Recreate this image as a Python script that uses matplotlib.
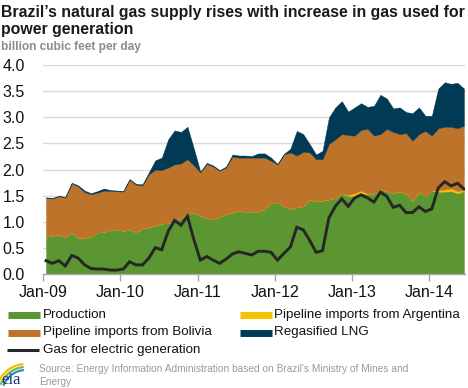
import matplotlib
matplotlib.use("Agg")
import matplotlib.pyplot as plt
from matplotlib.lines import Line2D
from matplotlib.patches import Arc

plt.rcParams['font.family'] = ['Liberation Sans', 'DejaVu Sans']

# monthly data, Jan-2009 .. Jun-2014 (billion cubic feet per day)
production = [0.72, 0.74, 0.76, 0.71, 0.80, 0.70, 0.70, 0.72, 0.80, 0.81, 0.85, 0.86,
              0.83, 0.86, 0.80, 0.88, 0.90, 0.93, 0.97, 0.98, 1.00, 1.08, 1.16, 1.18,
              1.12, 1.08, 1.05, 1.10, 1.15, 1.18, 1.21, 1.20, 1.20, 1.20, 1.24, 1.36,
              1.38, 1.30, 1.25, 1.28, 1.30, 1.43, 1.40, 1.41, 1.43, 1.46, 1.54, 1.50,
              1.49, 1.55, 1.53, 1.54, 1.62, 1.59, 1.55, 1.58, 1.55, 1.40, 1.57, 1.50,
              1.60, 1.58, 1.58, 1.59, 1.55, 1.59]
argentina = [0.0] * 47 + [0.02, 0.06, 0.05, 0.01] + [0.0] * 10 + [0.03, 0.04, 0.05, 0.04, 0.02]
bolivia = [0.74, 0.71, 0.73, 0.76, 0.94, 0.98, 0.87, 0.81, 0.76, 0.79, 0.74, 0.73,
           0.75, 0.95, 0.91, 0.82, 1.01, 1.07, 1.02, 1.06, 1.10, 1.04, 1.04, 0.90,
           0.83, 1.03, 1.01, 0.88, 0.89, 1.07, 1.02, 1.03, 1.03, 1.03, 0.99, 0.81,
           0.72, 0.99, 1.08, 0.99, 1.04, 0.90, 0.80, 0.79, 1.06, 1.12, 1.14, 1.14,
           1.10, 1.16, 1.24, 1.11, 1.06, 1.19, 1.17, 1.10, 1.15, 1.15, 1.11, 1.24,
           1.05, 1.18, 1.20, 1.18, 1.20, 1.23]
lng = [0.01, 0.01, 0.01, 0.01, 0.01, 0.02, 0.03, 0.02, 0.03, 0.04, 0.02, 0.01,
       0.01, 0.01, 0.02, 0.02, 0.04, 0.18, 0.24, 0.54, 0.65, 0.60, 0.62, 0.32,
       0.01, 0.02, 0.02, 0.01, 0.02, 0.04, 0.04, 0.04, 0.03, 0.08, 0.08, 0.06,
       0.01, 0.01, 0.07, 0.47, 0.34, 0.16, 0.09, 0.16, 0.51, 0.61, 0.63, 0.45,
       0.54, 0.51, 0.42, 0.57, 0.75, 0.58, 0.45, 0.51, 0.40, 0.53, 0.51, 0.29,
       0.38, 0.76, 0.85, 0.82, 0.87, 0.71]
electric = [0.26, 0.21, 0.26, 0.16, 0.36, 0.31, 0.18, 0.11, 0.10, 0.10, 0.08, 0.08,
            0.10, 0.24, 0.18, 0.18, 0.31, 0.51, 0.47, 0.82, 1.03, 0.94, 1.11, 0.66,
            0.27, 0.34, 0.27, 0.21, 0.29, 0.39, 0.43, 0.40, 0.37, 0.44, 0.44, 0.42,
            0.27, 0.40, 0.52, 0.90, 0.85, 0.65, 0.42, 0.45, 1.08, 1.30, 1.44, 1.30,
            1.46, 1.52, 1.46, 1.38, 1.57, 1.49, 1.28, 1.32, 1.18, 1.18, 1.29, 1.20,
            1.25, 1.65, 1.77, 1.69, 1.74, 1.63]
months = list(range(len(production)))
year_labels = ['Jan-09', 'Jan-10', 'Jan-11', 'Jan-12', 'Jan-13', 'Jan-14']
y_ticks = [0.0, 0.5, 1.0, 1.5, 2.0, 2.5, 3.0, 3.5, 4.0]

GREEN = '#5b9632'
YELLOW = '#f7c100'
ORANGE = '#bd732a'
NAVY = '#003a54'
BLACK = '#262626'

W, H = 468, 388
fig = plt.figure(figsize=(W / 100, H / 100), dpi=100)


def fx(px):
    return px / W


def fy(py):
    return 1 - py / H


ax = fig.add_axes([fx(43.3), fy(274.3), fx(464.6 - 43.3), (274.3 - 65) / H])
ax.stackplot(months, production, argentina, bolivia, lng,
             colors=[GREEN, YELLOW, ORANGE, NAVY], linewidth=0.3,
             edgecolor='face', zorder=2)
ax.plot(months, electric, color=BLACK, lw=2.1, zorder=3, solid_joinstyle='miter')

ax.set_xlim(-0.42, 65.1)
ax.set_ylim(0, 4)
ax.set_yticks(y_ticks)
ax.set_yticklabels([f'{v:.1f}' for v in y_ticks], fontsize=11.5, color='#111111')
ax.set_xticks([12 * k - 0.42 for k in range(len(year_labels))])
ax.set_xticklabels(year_labels, fontsize=11.5, color='#111111')
ax.tick_params(axis='y', length=0, pad=13.5)
ax.tick_params(axis='x', length=5, width=1, color='#a6a6a6', pad=3)
ax.grid(axis='y', color='#d9d9d9', lw=1)
ax.set_axisbelow(True)
for s in ['left', 'right', 'top']:
    ax.spines[s].set_visible(False)
ax.spines['bottom'].set_color('#a6a6a6')
ax.spines['bottom'].set_linewidth(1)
ax.spines['bottom'].set_zorder(4)

# title and units
fig.text(fx(1), fy(17), 'Brazil\u2019s natural gas supply rises with increase in gas used for',
         fontsize=11.4, fontweight='bold', color='#1a1a1a', va='baseline')
fig.text(fx(1), fy(34), 'power generation',
         fontsize=11.4, fontweight='bold', color='#1a1a1a', va='baseline')
fig.text(fx(1), fy(50), 'billion cubic feet per day',
         fontsize=8.6, fontweight='bold', color='#8c8c8c', va='baseline')

# legend drawn by hand
legend_items = [
    (8, 43, 315, GREEN, 5, 'Production'),
    (240, 274, 315, YELLOW, 5, 'Pipeline imports from Argentina'),
    (8, 43, 332.5, ORANGE, 5, 'Pipeline imports from Bolivia'),
    (240, 274, 332.5, NAVY, 5, 'Regasified LNG'),
    (7, 43, 350, BLACK, 2.2, 'Gas for electric generation'),
]
for x0, tx, y, col, lw, label in legend_items:
    fig.add_artist(Line2D([fx(x0), fx(x0 + 32)], [fy(y), fy(y)], color=col,
                          lw=lw, solid_capstyle='butt', transform=fig.transFigure))
    fig.text(fx(tx), fy(y), label, fontsize=9.6, color='#111111', va='center')

# source
fig.text(fx(39), fy(372), "Source: Energy Information Administration based on Brazil's Ministry of Mines and",
         fontsize=7.3, color='#9a9a9a', va='baseline')
fig.text(fx(39), fy(385), 'Energy', fontsize=7.3, color='#9a9a9a', va='baseline')

# eia logo
fig.text(fx(1), fy(384), 'eia', fontsize=12, color='#1d3a6b', va='baseline',
         family='Liberation Serif')
for r, col in [(30, '#f2c200'), (27, '#7ab648'), (24, '#2a8fcf')]:
    fig.add_artist(Arc((26 / 100, (H - 394) / 100), 2 * r / 100, 2 * r / 100,
                       theta1=95, theta2=160, color=col, lw=1.6,
                       transform=fig.dpi_scale_trans))

fig.savefig('out.png', dpi=100)
